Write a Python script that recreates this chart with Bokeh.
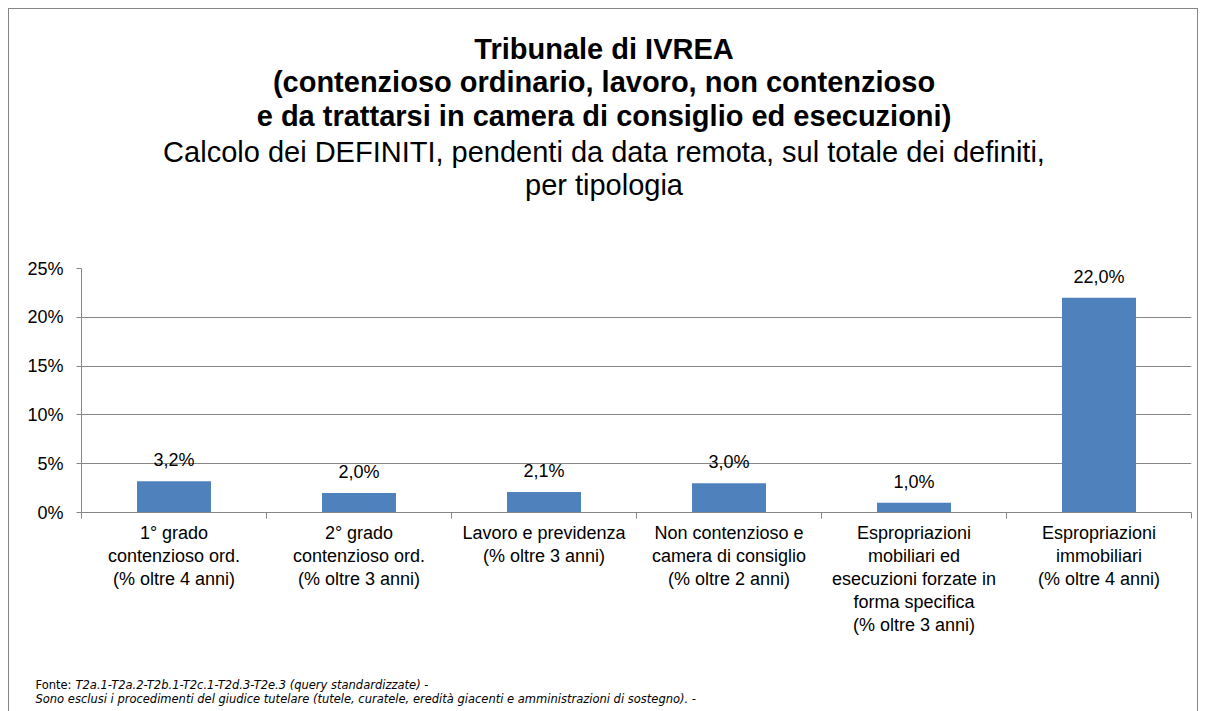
from bokeh.plotting import figure
from bokeh.layouts import column
from bokeh.models import (ColumnDataSource, FixedTicker, NumeralTickFormatter,
                          LabelSet, Range1d)
from bokeh.core.properties import value
from bokeh.embed import file_html
from bokeh.resources import INLINE

categories = [
    "1° grado\ncontenzioso ord.\n(% oltre 4 anni)",
    "2° grado\ncontenzioso ord.\n(% oltre 3 anni)",
    "Lavoro e previdenza\n(% oltre 3 anni)",
    "Non contenzioso e\ncamera di consiglio\n(% oltre 2 anni)",
    "Espropriazioni\nmobiliari ed\nesecuzioni forzate in\nforma specifica\n(% oltre 3 anni)",
    "Espropriazioni\nimmobiliari\n(% oltre 4 anni)",
]
values = [0.032, 0.020, 0.021, 0.030, 0.010, 0.220]
y_ticks = [0.0, 0.05, 0.10, 0.15, 0.20, 0.25]

title_bold = ["Tribunale di IVREA",
              "(contenzioso ordinario, lavoro, non contenzioso",
              "e da trattarsi in camera di consiglio ed esecuzioni)"]
title_sub = ["Calcolo dei DEFINITI, pendenti da data remota, sul totale dei definiti,",
             "per tipologia"]
footer_prefix = "Fonte: "
footer_line1 = "T2a.1-T2a.2-T2b.1-T2c.1-T2d.3-T2e.3 (query standardizzate) -"
footer_line2 = "Sono esclusi i procedimenti del giudice tutelare (tutele, curatele, eredità giacenti e amministrazioni di sostegno). -"

n = len(categories)
xc = [i + 0.5 for i in range(n)]
labels_txt = [f"{v*100:.1f}%".replace(".", ",") for v in values]

FONT = "Liberation Sans"
FFONT = "DejaVu Sans"
GRAY = "#868686"
LBL = "18px"

# ---- layout constants (page pixels) ----
OX, OY = 9, 9            # inner origin (margin 8 + border 1)
W = 1188                 # inner width
T = 210                  # title panel height
HM = 436                 # main chart height
B = 56                   # footer panel height (runs to the window's bottom edge)
ML, MR, MT, MB = 72, 6, 49, 143


def text_panel(height):
    f = figure(width=W, height=height, x_range=Range1d(0, W), y_range=Range1d(height, 0),
               output_backend="svg", toolbar_location=None,
               x_axis_location=None, y_axis_location=None,
               min_border=0, min_border_left=0, min_border_right=0,
               min_border_top=0, min_border_bottom=0)
    f.frame_align = False
    f.outline_line_color = None
    f.xgrid.visible = False
    f.ygrid.visible = False
    f.background_fill_color = "white"
    f.border_fill_color = "white"
    return f


# ---- title panel ----
top = text_panel(T)
cx = 603.5 - OX
top.text(x=[cx] * len(title_bold), y=[48 - OY, 81.5 - OY, 115 - OY], text=title_bold,
         text_align="center", text_baseline="middle", text_font=value(FONT),
         text_font_size=value("29px"), text_font_style="bold", text_color="black")
top.text(x=[cx] * len(title_sub), y=[151 - OY, 184 - OY], text=title_sub,
         text_align="center", text_baseline="middle", text_font=value(FONT),
         text_font_size=value("29px"), text_color="black")

# ---- main chart ----
p = figure(width=W, height=HM, x_range=Range1d(0, n), y_range=Range1d(0, 0.25),
           output_backend="svg", toolbar_location=None,
           min_border_left=ML, min_border_right=MR,
           min_border_top=MT, min_border_bottom=MB)
p.frame_align = False
p.outline_line_color = None
p.background_fill_color = "white"
p.border_fill_color = "white"

src = ColumnDataSource(dict(x=xc, top=values, lab=labels_txt))
p.vbar(x="x", top="top", width=0.4, bottom=0, source=src, fill_color="#4F81BD",
       line_color=None)

p.add_layout(LabelSet(x="x", y="top", text="lab", source=src, text_align="center",
                      text_baseline="middle", y_offset=21,
                      text_font_size=value(LBL),
                      text_font=value(FONT), text_color=value("black")))

p.xaxis.ticker = FixedTicker(ticks=xc, minor_ticks=list(range(n + 1)))
p.xaxis.major_label_overrides = {x: c for x, c in zip(xc, categories)}
p.xaxis.major_tick_out = 0
p.xaxis.major_tick_in = 0
p.xaxis.minor_tick_out = 6
p.xaxis.minor_tick_in = 0
p.xaxis.minor_tick_line_color = GRAY
p.xaxis.axis_line_color = GRAY
p.xaxis.major_label_standoff = 4
p.xaxis.major_label_text_font = FONT
p.xaxis.major_label_text_font_size = LBL
p.xaxis.major_label_text_color = "black"
p.xaxis.major_label_text_line_height = 1.15

p.yaxis.ticker = FixedTicker(ticks=y_ticks)
p.yaxis.formatter = NumeralTickFormatter(format="0%")
p.yaxis.major_tick_out = 5
p.yaxis.major_tick_in = 0
p.yaxis.minor_tick_line_color = None
p.yaxis.major_tick_line_color = GRAY
p.yaxis.axis_line_color = GRAY
p.yaxis.major_label_standoff = 13
p.yaxis.major_label_text_font = FONT
p.yaxis.major_label_text_font_size = LBL
p.yaxis.major_label_text_color = "black"

p.xgrid.grid_line_color = None
p.ygrid.grid_line_color = GRAY
p.ygrid.grid_line_alpha = 1.0

# ---- footer panel ----
bot = text_panel(B)
FY0 = OY + T + HM
FS = "11.5px"
bot.text(x=[35 - OX], y=[684 - FY0], text=[footer_prefix], text_align="left",
         text_baseline="middle", text_font=value(FFONT), text_font_size=value(FS),
         text_color="black")
bot.text(x=[75 - OX, 35 - OX], y=[684 - FY0, 698 - FY0], text=[footer_line1, footer_line2],
         text_align="left", text_baseline="middle", text_font=value(FFONT),
         text_font_size=value(FS), text_font_style="italic", text_color="black")

layout = column(top, p, bot, spacing=0,
                styles={"margin": "8px 8px 0px 8px",
                        "border-top": f"1px solid {GRAY}",
                        "border-left": f"1px solid {GRAY}",
                        "border-right": f"1px solid {GRAY}"})

open("out.html", "w").write(file_html(layout, INLINE))
